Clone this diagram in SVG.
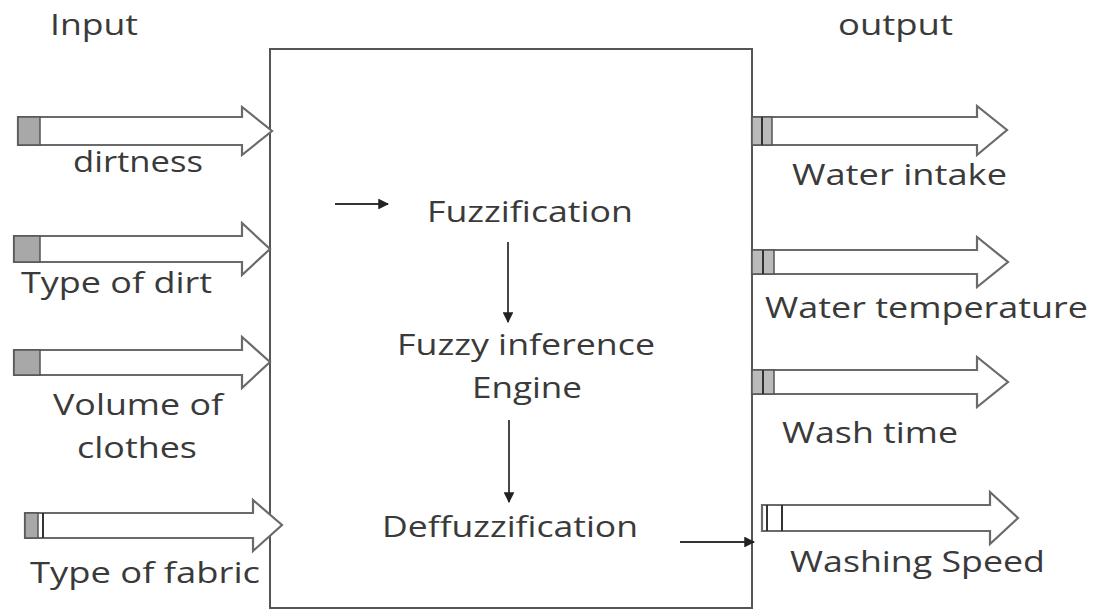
<svg xmlns="http://www.w3.org/2000/svg" width="1095" height="613" viewBox="0 0 1095 613">
<style>
text{font-family:"Open Sans","Liberation Sans",sans-serif;font-size:29px;fill:#3a3a3a}
.blk{fill:#fff;stroke:#6a6a6a;stroke-width:2.2}
.stripe{fill:#a8a8a8;stroke:#555;stroke-width:1.5}
.line{stroke:#333;stroke-width:2}
.conn{stroke:#333;stroke-width:1.8;fill:none}
</style>
<defs>
<marker id="ah" viewBox="0 0 10 10" refX="9" refY="5" markerWidth="6" markerHeight="6" orient="auto" markerUnits="strokeWidth">
<path d="M0,0 L10,5 L0,10 z" fill="#222"/>
</marker>
</defs>
<rect width="1095" height="613" fill="#fff"/>

<g id="headers">
<text x="50" y="35" textLength="88" lengthAdjust="spacingAndGlyphs">Input</text>
<text x="838" y="35" textLength="115" lengthAdjust="spacingAndGlyphs">output</text>
</g>

<g id="controller">
<rect x="270" y="49" width="482" height="559" fill="#fff" stroke="#555" stroke-width="2"/>
</g>

<g id="input-dirtness">
<polygon class="blk" points="18,117 242,117 242,107 272,131 242,155 242,145 18,145"/>
<rect class="stripe" x="18" y="117" width="22" height="28"/>
<text x="73" y="172" textLength="130" lengthAdjust="spacingAndGlyphs">dirtness</text>
</g>
<g id="input-type-of-dirt">
<polygon class="blk" points="14,236 242,236 242,223 270,249 242,275 242,262 14,262"/>
<rect class="stripe" x="14" y="236" width="26" height="26"/>
<text x="21" y="293" textLength="191" lengthAdjust="spacingAndGlyphs">Type of dirt</text>
</g>
<g id="input-volume">
<polygon class="blk" points="14,350 242,350 242,337 270,362 242,388 242,375 14,375"/>
<rect class="stripe" x="14" y="350" width="26" height="25"/>
<text x="53" y="415" textLength="170" lengthAdjust="spacingAndGlyphs">Volume of</text>
<text x="77" y="458" textLength="120" lengthAdjust="spacingAndGlyphs">clothes</text>
</g>
<g id="input-fabric">
<polygon class="blk" points="25,513 253,513 253,500 282,525 253,551 253,538 25,538"/>
<rect class="stripe" x="25" y="513" width="13" height="25"/>
<line class="line" x1="43" y1="513" x2="43" y2="538" stroke-width="3"/>
<text x="30" y="583" textLength="230" lengthAdjust="spacingAndGlyphs">Type of fabric</text>
</g>

<g id="output-water-intake">
<polygon class="blk" points="752,117 977,117 977,106 1007,130 977,155 977,145 752,145"/>
<rect x="752" y="117" width="20" height="28" fill="#bbb" stroke="#555" stroke-width="1.5"/>
<line class="line" x1="762" y1="117" x2="762" y2="145"/>
<text x="792" y="185" textLength="215" lengthAdjust="spacingAndGlyphs">Water intake</text>
</g>
<g id="output-water-temperature">
<polygon class="blk" points="752,250 977,250 977,237 1008,262 977,287 977,274 752,274"/>
<rect x="752" y="250" width="22" height="24" fill="#bbb" stroke="#555" stroke-width="1.5"/>
<line class="line" x1="763" y1="250" x2="763" y2="274"/>
<text x="765" y="318" textLength="323" lengthAdjust="spacingAndGlyphs">Water temperature</text>
</g>
<g id="output-wash-time">
<polygon class="blk" points="752,370 977,370 977,357 1008,382 977,407 977,394 752,394"/>
<rect x="752" y="370" width="22" height="24" fill="#bbb" stroke="#555" stroke-width="1.5"/>
<line class="line" x1="763" y1="370" x2="763" y2="394"/>
<text x="782" y="443" textLength="176" lengthAdjust="spacingAndGlyphs">Wash time</text>
</g>
<g id="output-washing-speed">
<polygon class="blk" points="762,505 990,505 990,492 1018,518 990,544 990,531 762,531"/>
<line class="line" x1="767" y1="505" x2="767" y2="531" stroke-width="3"/>
<line class="line" x1="782" y1="505" x2="782" y2="531" stroke-width="3"/>
<text x="790" y="572" textLength="255" lengthAdjust="spacingAndGlyphs">Washing Speed</text>
</g>

<g id="fuzzification">
<text x="427" y="222" textLength="206" lengthAdjust="spacingAndGlyphs">Fuzzification</text>
</g>
<g id="inference-engine">
<text x="397" y="355" textLength="258" lengthAdjust="spacingAndGlyphs">Fuzzy inference</text>
<text x="472" y="398" textLength="110" lengthAdjust="spacingAndGlyphs">Engine</text>
</g>
<g id="deffuzzification">
<text x="382" y="537" textLength="256" lengthAdjust="spacingAndGlyphs">Deffuzzification</text>
</g>

<g id="connectors">
<line class="conn" x1="335" y1="204" x2="388" y2="204" stroke="#777" marker-end="url(#ah)"/>
<line class="conn" x1="508" y1="242" x2="508" y2="322" marker-end="url(#ah)"/>
<line class="conn" x1="509" y1="420" x2="509" y2="502" marker-end="url(#ah)"/>
<line class="conn" x1="680" y1="542" x2="754" y2="542" marker-end="url(#ah)"/>
</g>
</svg>
